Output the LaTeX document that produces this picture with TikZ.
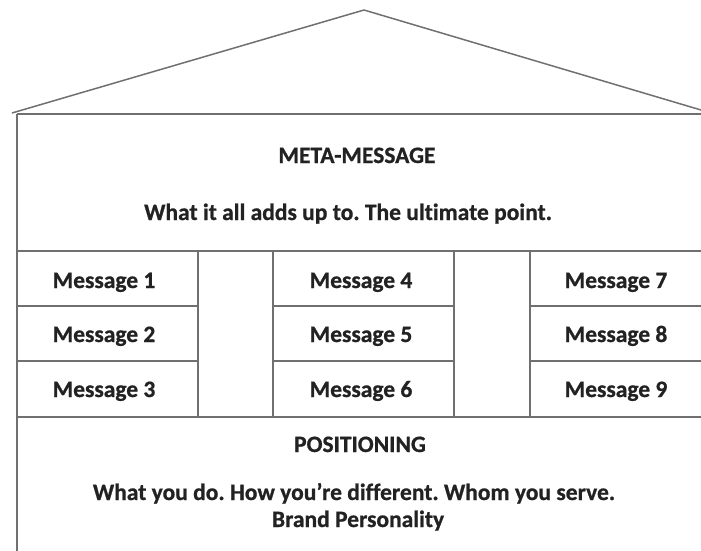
\documentclass[tikz,border=0pt]{standalone}
\usepackage{fontspec}
\setmainfont{Carlito}[Ligatures=NoCommon, BoldFeatures={FakeBold=0.8}]
\frenchspacing
\definecolor{linegray}{HTML}{707070}
\definecolor{inkc}{HTML}{222222}
\tikzset{
  wall/.style={draw=linegray, line width=1.5pt},
  lbl/.style={anchor=base, inner sep=0pt, text=inkc, font=\bfseries\fontsize{23.5}{28}\selectfont},
}
\begin{document}
\begin{tikzpicture}[x=1pt,y=-1pt]
\useasboundingbox (0,0) rectangle (701,551);
% roof
\coordinate (roofL) at (12,113);
\coordinate (apex) at (364,10);
\coordinate (roofR) at (701,110);
\draw[wall, line join=round] (roofL) -- (apex) -- (roofR);
% walls and bands
\coordinate (tl) at (17,114);
\coordinate (tr) at (701,114);
\coordinate (bl) at (17,551);
\draw[wall] (tl) -- (tr);
\draw[wall] (tl) -- (bl);
\draw[wall] (17,251) -- (701,251);
\draw[wall] (17,417) -- (701,417);
% column verticals
\foreach \cx in {198,273,454,530} {
  \draw[wall] (\cx,251) -- (\cx,417);
}
% row separators inside message columns
\foreach \ry in {306,361} {
  \draw[wall] (17,\ry) -- (198,\ry);
  \draw[wall] (273,\ry) -- (454,\ry);
  \draw[wall] (530,\ry) -- (701,\ry);
}
% texts
\node[lbl] (meta) at (357,163) {META-MESSAGE};
\node[lbl] (metatxt) at (348,220) {What it all adds up to. The ultimate point.};
\node[lbl] (m1) at (104,288) {Message 1};
\node[lbl] (m2) at (104,342) {Message 2};
\node[lbl] (m3) at (104,397) {Message 3};
\node[lbl] (m4) at (361,288) {Message 4};
\node[lbl] (m5) at (361,342) {Message 5};
\node[lbl] (m6) at (361,397) {Message 6};
\node[lbl] (m7) at (616,288) {Message 7};
\node[lbl] (m8) at (616,342) {Message 8};
\node[lbl] (m9) at (616,397) {Message 9};
\node[lbl] (pos) at (360,452) {POSITIONING};
\node[lbl] (postxt) at (354,500) {What you do. How you’re different. Whom you serve.};
\node[lbl] (brand) at (358,527) {Brand Personality};
\end{tikzpicture}
\end{document}
